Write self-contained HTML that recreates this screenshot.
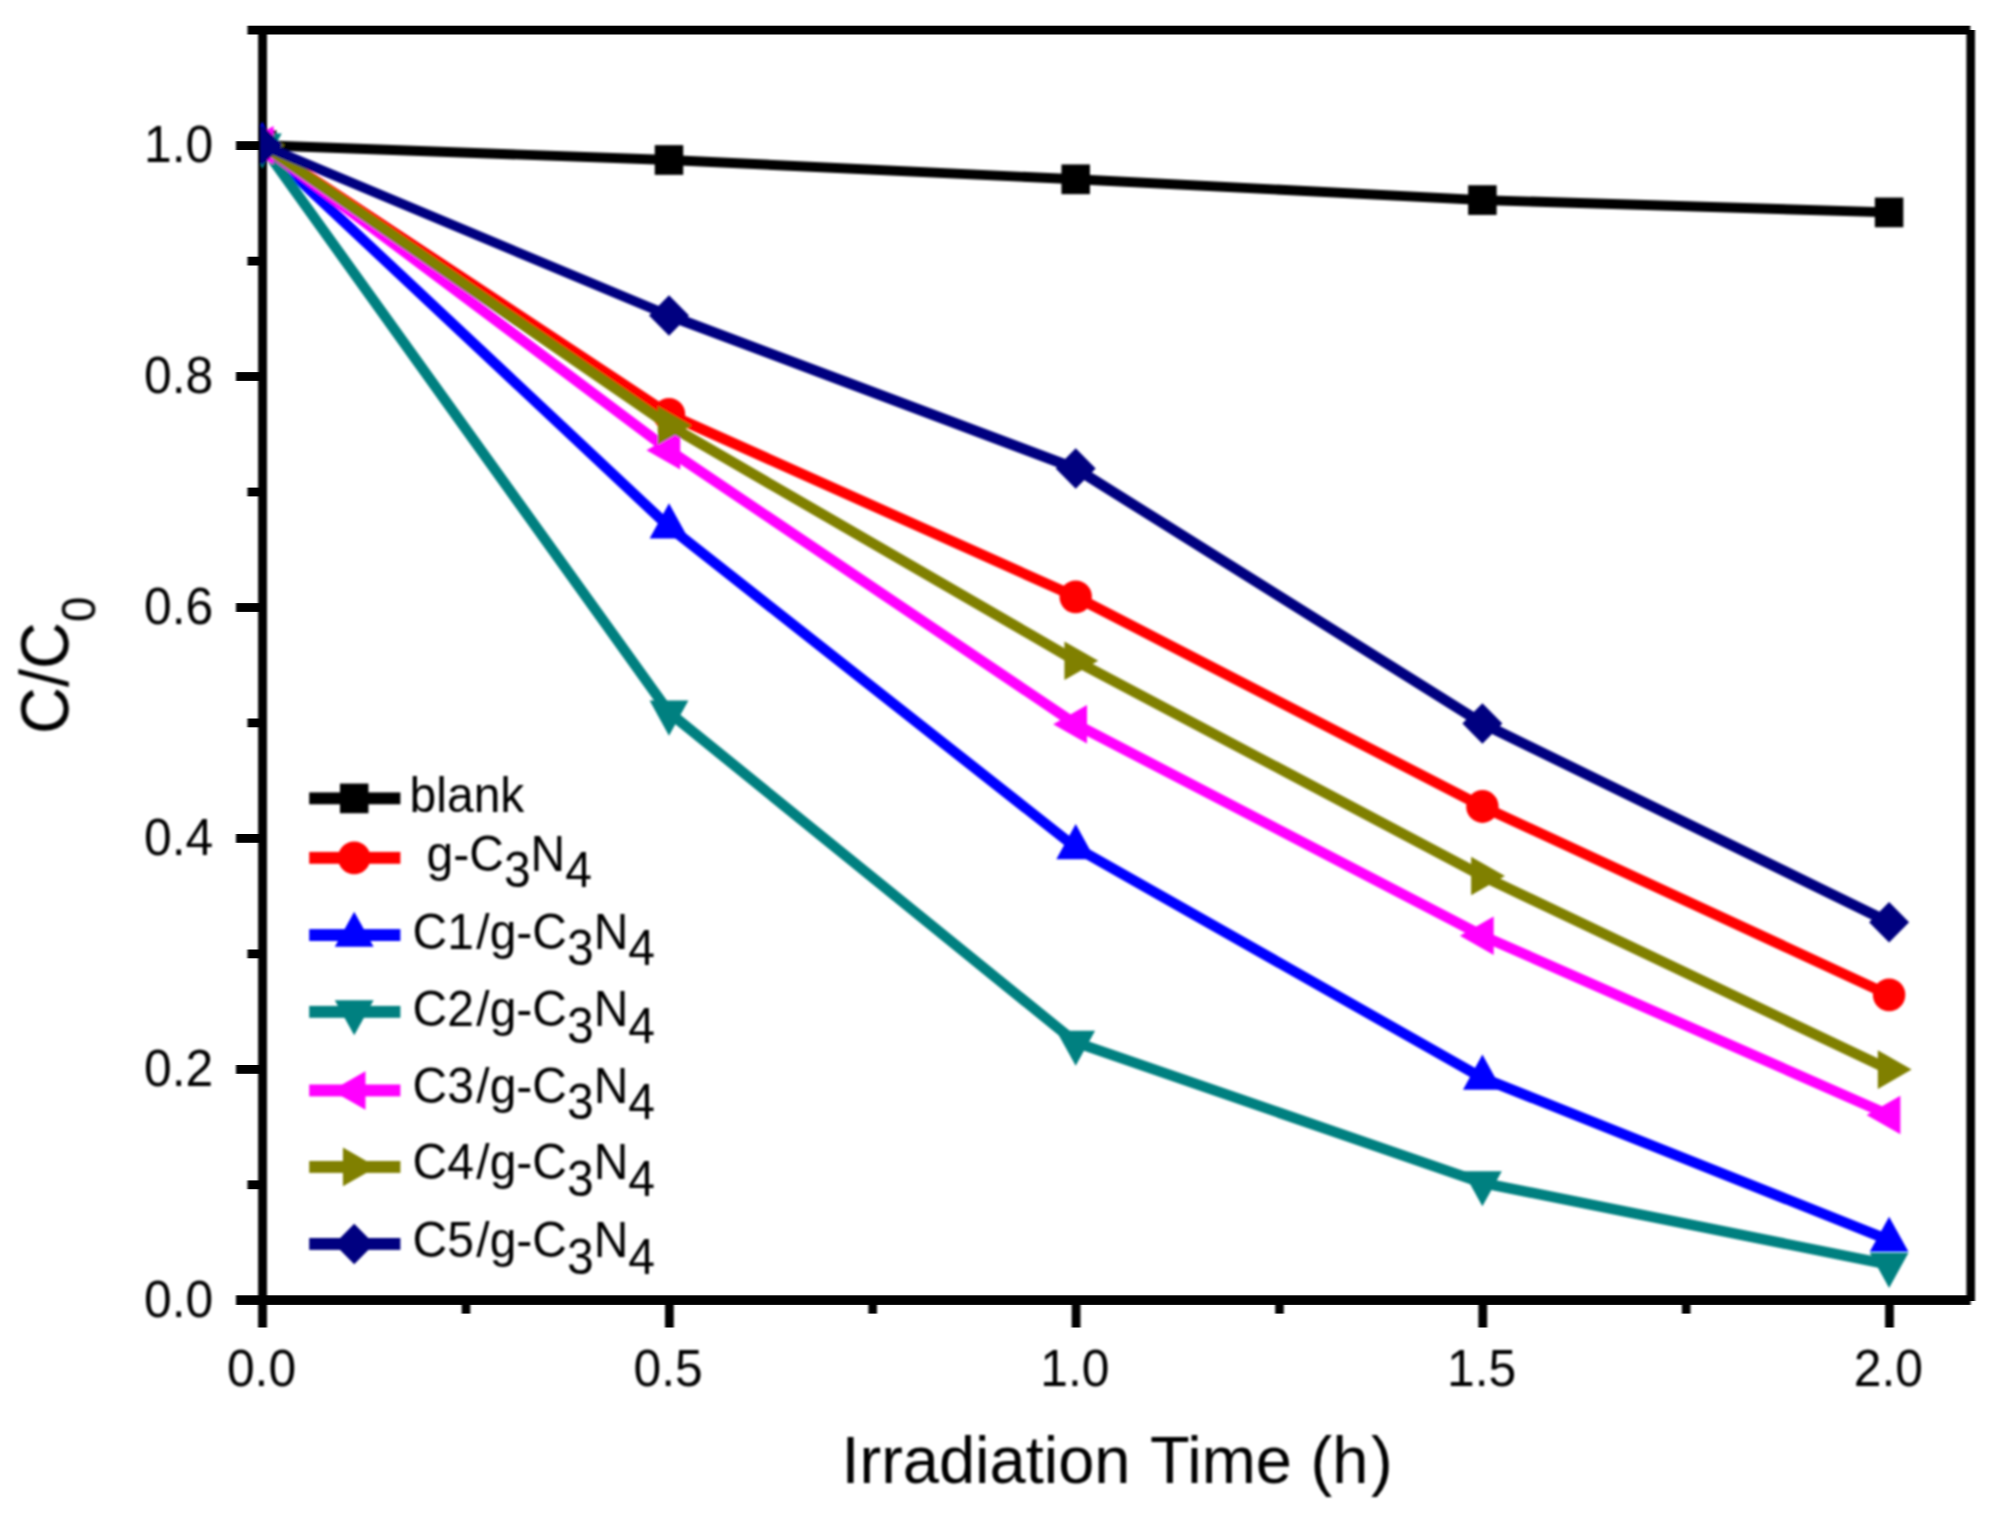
<!DOCTYPE html>
<html lang="en"><head><meta charset="utf-8"><title>C/C0 vs Irradiation Time</title>
<style>html,body{margin:0;padding:0;background:#fff}body{width:1997px;height:1528px;overflow:hidden}svg{display:block}text{font-family:"Liberation Sans",sans-serif;fill:#000}</style>
</head><body>
<svg width="1997" height="1528" viewBox="0 0 1997 1528">
<rect width="1997" height="1528" fill="#ffffff"/>
<defs><clipPath id="plotclip"><rect x="260" y="30" width="1711" height="1270"/></clipPath><filter id="soft" x="0" y="0" width="1997" height="1528" filterUnits="userSpaceOnUse"><feGaussianBlur stdDeviation="0.9"/></filter><filter id="softx" x="0" y="0" width="1997" height="1528" filterUnits="userSpaceOnUse"><feGaussianBlur stdDeviation="0.9 0"/></filter></defs>
<g fill="#000000" id="axes" filter="url(#softx)">
<rect x="247.5" y="25.7" width="1722.8" height="8.8"/>
<rect x="236" y="1295.3" width="1734.6" height="9.6"/>
<rect x="258.1" y="26" width="8.9" height="1301.5"/>
<rect x="1966.4" y="30" width="8.6" height="1271"/>
<rect x="236" y="1065.0" width="24" height="8.8"/>
<rect x="236" y="834.0" width="24" height="8.8"/>
<rect x="236" y="603.1" width="24" height="8.8"/>
<rect x="236" y="372.1" width="24" height="8.8"/>
<rect x="236" y="141.2" width="24" height="8.8"/>
<rect x="247.5" y="1180.4" width="12" height="8.8"/>
<rect x="247.5" y="949.5" width="12" height="8.8"/>
<rect x="247.5" y="718.5" width="12" height="8.8"/>
<rect x="247.5" y="487.6" width="12" height="8.8"/>
<rect x="247.5" y="256.7" width="12" height="8.8"/>
<rect x="665.0" y="1300" width="8.8" height="27.5"/>
<rect x="1071.7" y="1300" width="8.8" height="27.5"/>
<rect x="1478.4" y="1300" width="8.8" height="27.5"/>
<rect x="1885.1" y="1300" width="8.8" height="27.5"/>
<rect x="461.7" y="1300" width="8.6" height="13.6"/>
<rect x="868.4" y="1300" width="8.6" height="13.6"/>
<rect x="1275.2" y="1300" width="8.6" height="13.6"/>
<rect x="1681.9" y="1300" width="8.6" height="13.6"/>
</g>
<g filter="url(#soft)">
<g clip-path="url(#plotclip)" id="data">
<polyline points="262.3,145.3 669.0,160.0 1075.7,179.3 1482.4,200.1 1889.1,212.4" fill="none" stroke="#000000" stroke-width="9.9" stroke-linejoin="miter" stroke-linecap="butt"/>
<rect x="248.05" y="130.45" width="28.5" height="29.7" fill="#000000"/>
<rect x="654.75" y="145.15" width="28.5" height="29.7" fill="#000000"/>
<rect x="1061.45" y="164.45" width="28.5" height="29.7" fill="#000000"/>
<rect x="1468.15" y="185.25" width="28.5" height="29.7" fill="#000000"/>
<rect x="1874.85" y="197.55" width="28.5" height="29.7" fill="#000000"/>
<polyline points="262.3,145.3 669.0,414.3 1075.7,596.8 1482.4,806.5 1889.1,994.9" fill="none" stroke="#ff0000" stroke-width="10.5" stroke-linejoin="miter" stroke-linecap="butt"/>
<ellipse cx="262.3" cy="145.3" rx="16.2" ry="16.4" fill="#ff0000"/>
<ellipse cx="669" cy="414.3" rx="16.2" ry="16.4" fill="#ff0000"/>
<ellipse cx="1075.7" cy="596.8" rx="16.2" ry="16.4" fill="#ff0000"/>
<ellipse cx="1482.4" cy="806.5" rx="16.2" ry="16.4" fill="#ff0000"/>
<ellipse cx="1889.1" cy="994.9" rx="16.2" ry="16.4" fill="#ff0000"/>
<polyline points="262.3,145.3 669.0,526.8 1075.7,847.5 1482.4,1078.0 1889.1,1240.1" fill="none" stroke="#0000ff" stroke-width="10.5" stroke-linejoin="miter" stroke-linecap="butt"/>
<polygon points="262.3,121.83 281.7,157.03 242.9,157.03" fill="#0000ff"/>
<polygon points="669,503.33 688.4,538.53 649.6,538.53" fill="#0000ff"/>
<polygon points="1075.7,824.03 1095.1,859.23 1056.3,859.23" fill="#0000ff"/>
<polygon points="1482.4,1054.53 1501.8,1089.73 1463,1089.73" fill="#0000ff"/>
<polygon points="1889.1,1216.63 1908.5,1251.83 1869.7,1251.83" fill="#0000ff"/>
<polyline points="262.3,145.3 669.0,712.3 1075.7,1042.4 1482.4,1182.9 1889.1,1264.6" fill="none" stroke="#008080" stroke-width="10.5" stroke-linejoin="miter" stroke-linecap="butt"/>
<polygon points="262.3,168.77 281.7,133.57 242.9,133.57" fill="#008080"/>
<polygon points="669,735.77 688.4,700.57 649.6,700.57" fill="#008080"/>
<polygon points="1075.7,1065.87 1095.1,1030.67 1056.3,1030.67" fill="#008080"/>
<polygon points="1482.4,1206.37 1501.8,1171.17 1463,1171.17" fill="#008080"/>
<polygon points="1889.1,1288.07 1908.5,1252.87 1869.7,1252.87" fill="#008080"/>
<polyline points="262.3,145.3 669.0,450.2 1075.7,724.2 1482.4,935.7 1889.1,1115.0" fill="none" stroke="#ff00ff" stroke-width="10.5" stroke-linejoin="miter" stroke-linecap="butt"/>
<polygon points="239.77,145.3 273.57,126 273.57,164.6" fill="#ff00ff"/>
<polygon points="646.47,450.2 680.27,430.9 680.27,469.5" fill="#ff00ff"/>
<polygon points="1053.17,724.2 1086.97,704.9 1086.97,743.5" fill="#ff00ff"/>
<polygon points="1459.87,935.7 1493.67,916.4 1493.67,955" fill="#ff00ff"/>
<polygon points="1866.57,1115 1900.37,1095.7 1900.37,1134.3" fill="#ff00ff"/>
<polyline points="262.3,145.3 669.0,425.4 1075.7,660.8 1482.4,876.0 1889.1,1069.6" fill="none" stroke="#808000" stroke-width="10.5" stroke-linejoin="miter" stroke-linecap="butt"/>
<polygon points="284.83,145.3 251.03,126 251.03,164.6" fill="#808000"/>
<polygon points="691.53,425.4 657.73,406.1 657.73,444.7" fill="#808000"/>
<polygon points="1098.23,660.8 1064.43,641.5 1064.43,680.1" fill="#808000"/>
<polygon points="1504.93,876 1471.13,856.7 1471.13,895.3" fill="#808000"/>
<polygon points="1911.63,1069.6 1877.83,1050.3 1877.83,1088.9" fill="#808000"/>
<polyline points="262.3,145.3 669.0,315.5 1075.7,468.5 1482.4,723.5 1889.1,922.3" fill="none" stroke="#000080" stroke-width="9.7" stroke-linejoin="miter" stroke-linecap="butt"/>
<polyline points="669.0,315.5 1075.7,468.5 1482.4,723.5 1889.1,922.3" fill="none" stroke="#000080" stroke-width="10.5" stroke-linejoin="miter" stroke-linecap="butt"/>
<polygon points="262.3,125 282.3,145.3 262.3,165.6 242.3,145.3" fill="#000080"/>
<polygon points="669,295.2 689,315.5 669,335.8 649,315.5" fill="#000080"/>
<polygon points="1075.7,448.2 1095.7,468.5 1075.7,488.8 1055.7,468.5" fill="#000080"/>
<polygon points="1482.4,703.2 1502.4,723.5 1482.4,743.8 1462.4,723.5" fill="#000080"/>
<polygon points="1889.1,902 1909.1,922.3 1889.1,942.6 1869.1,922.3" fill="#000080"/>
</g>
<g font-size="49.8" id="ticklabels">
<text transform="translate(213.2,1317.0) scale(1,1.04)" text-anchor="end">0.0</text>
<text transform="translate(213.2,1086.1) scale(1,1.04)" text-anchor="end">0.2</text>
<text transform="translate(213.2,855.1) scale(1,1.04)" text-anchor="end">0.4</text>
<text transform="translate(213.2,624.2) scale(1,1.04)" text-anchor="end">0.6</text>
<text transform="translate(213.2,393.2) scale(1,1.04)" text-anchor="end">0.8</text>
<text transform="translate(213.2,162.3) scale(1,1.04)" text-anchor="end">1.0</text>
<text transform="translate(261.5,1386.3) scale(1,1.04)" text-anchor="middle">0.0</text>
<text transform="translate(668.2,1386.3) scale(1,1.04)" text-anchor="middle">0.5</text>
<text transform="translate(1074.9,1386.3) scale(1,1.04)" text-anchor="middle">1.0</text>
<text transform="translate(1481.6,1386.3) scale(1,1.04)" text-anchor="middle">1.5</text>
<text transform="translate(1888.3,1386.3) scale(1,1.04)" text-anchor="middle">2.0</text>
</g>
<text transform="translate(1117.0,1483.2) scale(1,1.03)" font-size="65" text-anchor="middle" word-spacing="2.7">Irradiation Time <tspan dx="-2.2">(h</tspan><tspan dx="2.6">)</tspan></text>
<text transform="translate(68.3,734) rotate(-90) scale(1,1.05)" font-size="65">C/C<tspan font-size="45.5" dy="25.7">0</tspan></text>
<g id="legend" font-size="48">
<rect x="309.2" y="792.4" width="91.2" height="11.9" fill="#000000"/>
<rect x="339.95" y="783.55" width="28.5" height="29.7" fill="#000000"/>
<text transform="translate(409.6,812.3) scale(1,1.04)">blank</text>
<rect x="309.2" y="851.9" width="91.2" height="11.9" fill="#ff0000"/>
<ellipse cx="354.2" cy="857.9" rx="16.2" ry="16.4" fill="#ff0000"/>
<text transform="translate(426.6,870.6) scale(1,1.04)">g-C<tspan dy="16.2">3</tspan><tspan dy="-16.2">N</tspan><tspan dy="16.2">4</tspan></text>
<rect x="309.2" y="929.1" width="91.2" height="11.9" fill="#0000ff"/>
<polygon points="354.2,911.63 373.6,946.83 334.8,946.83" fill="#0000ff"/>
<text transform="translate(412.6,948.6) scale(1,1.04)">C1<tspan dx="2.4">/</tspan>g-C<tspan dy="16.2">3</tspan><tspan dy="-16.2">N</tspan><tspan dy="16.2">4</tspan></text>
<rect x="309.2" y="1005.9" width="91.2" height="11.9" fill="#008080"/>
<polygon points="354.2,1035.37 373.6,1000.17 334.8,1000.17" fill="#008080"/>
<text transform="translate(412.6,1026.2) scale(1,1.04)">C2<tspan dx="2.4">/</tspan>g-C<tspan dy="16.2">3</tspan><tspan dy="-16.2">N</tspan><tspan dy="16.2">4</tspan></text>
<rect x="309.2" y="1084.5" width="91.2" height="11.9" fill="#ff00ff"/>
<polygon points="331.67,1090.5 365.47,1071.2 365.47,1109.8" fill="#ff00ff"/>
<text transform="translate(412.6,1102.6) scale(1,1.04)">C3<tspan dx="2.4">/</tspan>g-C<tspan dy="16.2">3</tspan><tspan dy="-16.2">N</tspan><tspan dy="16.2">4</tspan></text>
<rect x="309.2" y="1161.0" width="91.2" height="11.9" fill="#808000"/>
<polygon points="376.73,1166.9 342.93,1147.6 342.93,1186.2" fill="#808000"/>
<text transform="translate(412.6,1179.2) scale(1,1.04)">C4<tspan dx="2.4">/</tspan>g-C<tspan dy="16.2">3</tspan><tspan dy="-16.2">N</tspan><tspan dy="16.2">4</tspan></text>
<rect x="309.2" y="1238.0" width="91.2" height="11.9" fill="#000080"/>
<polygon points="354.2,1223.7 374.2,1244 354.2,1264.3 334.2,1244" fill="#000080"/>
<text transform="translate(412.6,1257.3) scale(1,1.04)">C5<tspan dx="2.4">/</tspan>g-C<tspan dy="16.2">3</tspan><tspan dy="-16.2">N</tspan><tspan dy="16.2">4</tspan></text>
</g>
</g>
</svg>
</body></html>
